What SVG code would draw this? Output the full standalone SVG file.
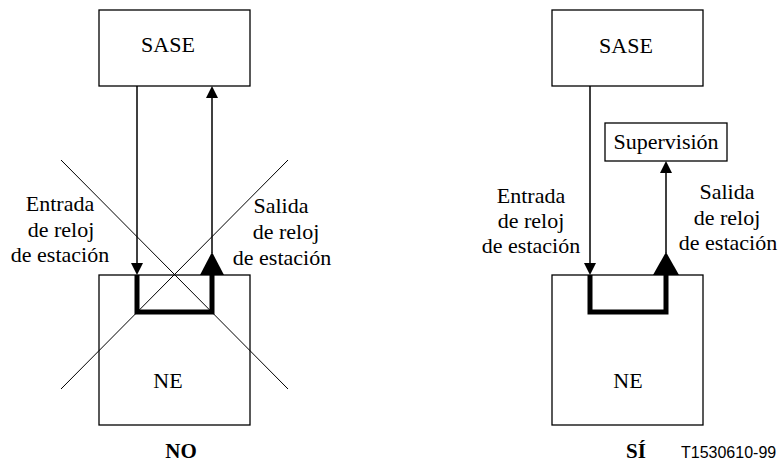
<svg xmlns="http://www.w3.org/2000/svg" width="779" height="466" viewBox="0 0 779 466">
  <style>
    .box { fill: #fff; stroke: #000; stroke-width: 1.3; }
    .lbl { font-family: 'Liberation Serif', 'DejaVu Serif', serif; font-size: 22px; font-weight: normal; fill: #000; text-anchor: middle; }
    .cap { font-family: 'Liberation Serif', 'DejaVu Serif', serif; font-size: 21px; font-weight: bold; fill: #000; text-anchor: middle; }
    .ref { font-family: 'Liberation Sans', Arial, sans-serif; font-size: 16px; fill: #000; }
    .wire { fill: none; stroke: #000; stroke-width: 1.5; }
    .loop { fill: none; stroke: #000; stroke-width: 5; stroke-linejoin: miter; }
    .cross { stroke: #000; stroke-width: 1; }
    .head { fill: #000; stroke: none; }
  </style>

  <rect width="779" height="466" fill="#fff"/>

  <!-- Left variant: NO -->
  <g id="sase-no">
    <rect class="box" x="99" y="10" width="151" height="76"/>
    <text class="lbl" x="168" y="52">SASE</text>
  </g>
  <g id="ne-no">
    <rect class="box" x="99" y="275" width="151" height="150"/>
    <text class="lbl" x="168" y="388">NE</text>
  </g>

  <g id="connectors-no">
    <line class="wire" x1="137" y1="86" x2="137" y2="264"/>
    <polygon class="head" points="131,263 143,263 137,275"/>
    <line class="wire" x1="212" y1="97" x2="212" y2="253"/>
    <polygon class="head" points="206,98 218,98 212,86"/>
    <path class="loop" d="M137,275 V312 H212 V270"/>
    <polygon class="head" points="200,275 224,275 212,252"/>
  </g>

  <g id="cross-no">
    <line class="cross" x1="61" y1="160" x2="288" y2="389"/>
    <line class="cross" x1="288" y1="160" x2="61" y2="389"/>
  </g>

  <g id="labels-no">
    <text class="lbl" x="60" y="211">Entrada</text>
    <text class="lbl" x="61" y="237">de reloj</text>
    <text class="lbl" x="60" y="262">de estación</text>
    <text class="lbl" x="281" y="213">Salida</text>
    <text class="lbl" x="286" y="239">de reloj</text>
    <text class="lbl" x="282" y="265">de estación</text>
    <text class="cap" x="181" y="458">NO</text>
  </g>

  <!-- Right variant: SÍ -->
  <g id="sase-si">
    <rect class="box" x="552" y="10" width="151" height="76"/>
    <text class="lbl" x="626" y="53">SASE</text>
  </g>
  <g id="supervision">
    <rect class="box" x="605" y="123" width="122" height="38"/>
    <text class="lbl" x="666" y="149">Supervisión</text>
  </g>
  <g id="ne-si">
    <rect class="box" x="552" y="275" width="151" height="150"/>
    <text class="lbl" x="628" y="388">NE</text>
  </g>

  <g id="connectors-si">
    <line class="wire" x1="590" y1="86" x2="590" y2="264"/>
    <polygon class="head" points="584,263 596,263 590,275"/>
    <line class="wire" x1="666" y1="172" x2="666" y2="253"/>
    <polygon class="head" points="660,173 672,173 666,161"/>
    <path class="loop" d="M590,275 V312 H666 V270"/>
    <polygon class="head" points="653,275 679,275 666,252"/>
  </g>

  <g id="labels-si">
    <text class="lbl" x="531" y="203">Entrada</text>
    <text class="lbl" x="531" y="228">de reloj</text>
    <text class="lbl" x="531" y="253">de estación</text>
    <text class="lbl" x="727" y="199">Salida</text>
    <text class="lbl" x="727" y="225">de reloj</text>
    <text class="lbl" x="728" y="250">de estación</text>
    <text class="cap" x="636" y="458">SÍ</text>
    <text class="ref" x="681" y="458">T1530610-99</text>
  </g>
</svg>
